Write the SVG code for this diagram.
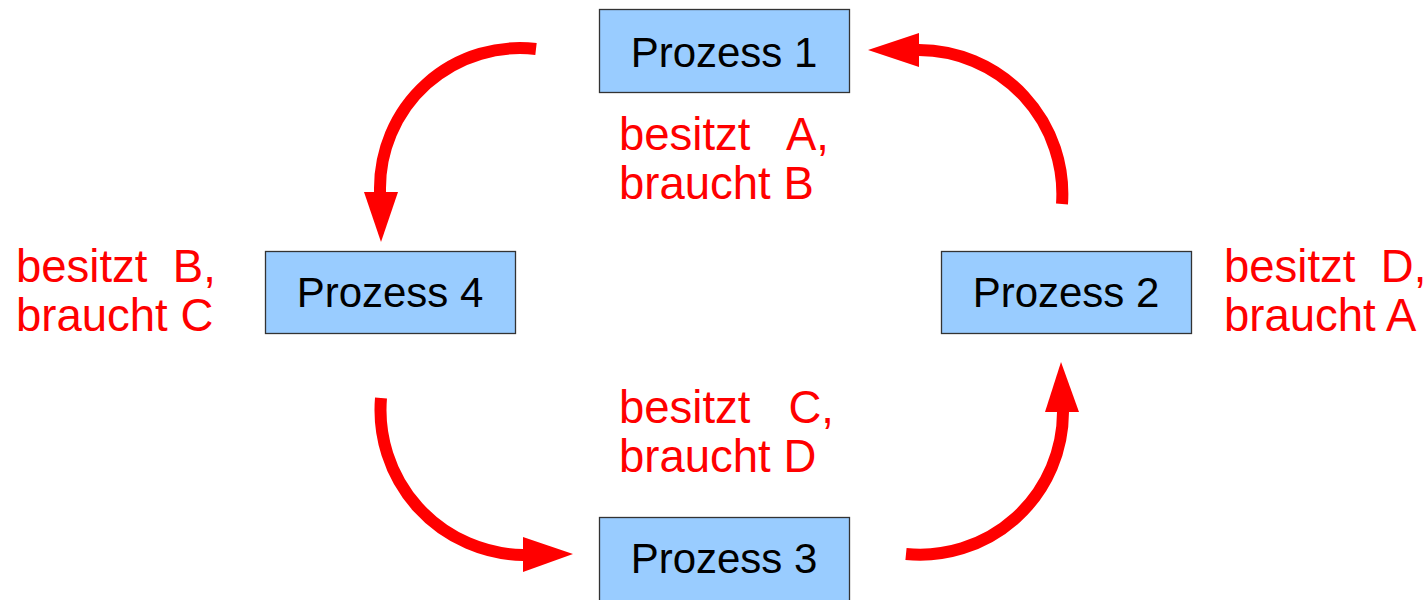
<svg xmlns="http://www.w3.org/2000/svg" width="1424" height="600" viewBox="0 0 1424 600">
  <style>
    .box { fill: #99ccff; stroke: #333333; stroke-width: 1.3; }
    .ptext { font-family: "Liberation Sans", Arial, sans-serif; font-size: 42px; fill: #000000; text-anchor: middle; }
    .lbl { font-family: "Liberation Sans", Arial, sans-serif; font-size: 45.5px; fill: #ff0000; white-space: pre; }
    .arc { fill: none; stroke: #ff0000; stroke-width: 12; }
    .head { fill: #ff0000; stroke: none; }
  </style>
  <rect width="1424" height="600" fill="#ffffff"/>

  <g id="connectors">
    <path class="arc" d="M 536 49 A 140 140 0 0 0 380 189 L 380 194"/>
    <polygon class="head" points="364,192 398,192 381,242"/>
    <path class="arc" d="M 1062 204 A 144 144 0 0 0 919 50 L 916 50"/>
    <polygon class="head" points="919,33 919,67 868,50"/>
    <path class="arc" d="M 381 398 A 145 145 0 0 0 523 555 L 526 555"/>
    <polygon class="head" points="523,537 523,572 573,554"/>
    <path class="arc" d="M 906 554 A 143 143 0 0 0 1063 412 L 1063 409"/>
    <polygon class="head" points="1045,412 1079,412 1061,362"/>
  </g>

  <g id="prozess1">
    <rect class="box" x="599.5" y="9.5" width="250" height="83"/>
    <text class="ptext" x="724" y="67">Prozess 1</text>
  </g>
  <g id="prozess2">
    <rect class="box" x="941.5" y="251.5" width="250" height="82"/>
    <text class="ptext" x="1066" y="307">Prozess 2</text>
  </g>
  <g id="prozess3">
    <rect class="box" x="599.5" y="517.5" width="250" height="90"/>
    <text class="ptext" x="724" y="573">Prozess 3</text>
  </g>
  <g id="prozess4">
    <rect class="box" x="265.5" y="251.5" width="250" height="82"/>
    <text class="ptext" x="390" y="307">Prozess 4</text>
  </g>

  <g id="labels">
    <text class="lbl" x="619" y="150" xml:space="preserve">besitzt   A,</text>
    <text class="lbl" x="619" y="199">braucht B</text>
    <text class="lbl" x="16" y="282" xml:space="preserve">besitzt  B,</text>
    <text class="lbl" x="16" y="331">braucht C</text>
    <text class="lbl" x="1224" y="282" xml:space="preserve">besitzt  D,</text>
    <text class="lbl" x="1224" y="331">braucht A</text>
    <text class="lbl" x="619" y="423" xml:space="preserve">besitzt   C,</text>
    <text class="lbl" x="619" y="472">braucht D</text>
  </g>
</svg>
